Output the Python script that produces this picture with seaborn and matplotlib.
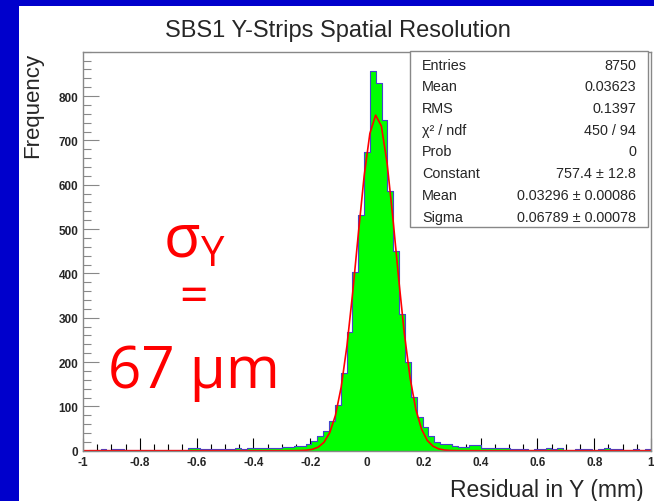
import numpy as np
import pandas as pd
import matplotlib
matplotlib.use("Agg")
import matplotlib.pyplot as plt
import seaborn as sns
from matplotlib.patches import Rectangle
from matplotlib.ticker import MultipleLocator, FixedLocator

sns.set_theme(style="white")
plt.rcParams['font.family'] = ['Liberation Sans', 'DejaVu Sans']

# ---- data ----
n_bins = 97
x_min, x_max = -1.0, 1.0
counts = [
    0, 1, 2, 3, 1, 3, 3, 1, 2, 2,
    1, 2, 2, 1, 2, 1, 1, 2, 6, 5,
    4, 3, 3, 3, 4, 4, 5, 4, 5, 5,
    6, 6, 7, 7, 8, 9, 11, 11, 15, 23,
    34, 45, 66, 102, 175, 267, 403, 532, 673, 857,
    829, 746, 585, 451, 308, 201, 120, 75, 53, 34,
    20, 15, 14, 10, 8, 9, 13, 12, 6, 5,
    5, 6, 5, 4, 3, 3, 2, 4, 3, 5,
    3, 6, 2, 2, 3, 4, 3, 2, 4, 5,
    4, 3, 2, 2, 3, 2, 3,
]
fit_constant = 757.4
fit_mean = 0.03296
fit_sigma = 0.06789

title = "SBS1 Y-Strips Spatial Resolution"
xlabel = "Residual in Y (mm)"
ylabel = "Frequency"
stats_labels = ["Entries", "Mean", "RMS", "χ² / ndf", "Prob", "Constant", "Mean", "Sigma"]
stats_values = ["8750", "0.03623", "0.1397", "450 / 94", "0", "757.4 ± 12.8",
                "0.03296 ± 0.00086", "0.06789 ± 0.00078"]
x_tick_values = [-1, -0.8, -0.6, -0.4, -0.2, 0, 0.2, 0.4, 0.6, 0.8, 1]
x_tick_labels = ["-1", "-0.8", "-0.6", "-0.4", "-0.2", "0", "0.2", "0.4", "0.6", "0.8", "1"]
y_tick_values = [0, 100, 200, 300, 400, 500, 600, 700, 800]

edges = np.linspace(x_min, x_max, n_bins + 1)
centers = 0.5 * (edges[:-1] + edges[1:])
df = pd.DataFrame({"x": centers, "w": counts})

W, H = 654, 502
fig = plt.figure(figsize=(W / 100, H / 100), dpi=100)
fig.patch.set_facecolor('#0000CC')
fig.add_artist(Rectangle((19 / W, 0), 1 - 19 / W, 1 - 7 / H, transform=fig.transFigure,
                         facecolor='white', edgecolor='none', zorder=0))

ax = fig.add_axes([83 / W, 1 - 451.7 / H, (651 - 83) / W, (451.7 - 52.7) / H])
ax.set_facecolor('white')

sns.histplot(data=df, x="x", weights="w", bins=n_bins, binrange=(x_min, x_max),
             element="step", fill=True,
             facecolor='#00FF00', edgecolor='#4444CC', alpha=1, linewidth=0.8, ax=ax)

xf = np.linspace(x_min, x_max, 100)
yf = fit_constant * np.exp(-0.5 * ((xf - fit_mean) / fit_sigma) ** 2)
ax.plot(xf, yf, color='#FF0000', lw=1.2)

ax.set_xlim(x_min, x_max)
ax.set_ylim(0, 900)
ax.set_xlabel("")
ax.set_ylabel("")

ax.xaxis.set_major_locator(FixedLocator(x_tick_values))
ax.xaxis.set_minor_locator(MultipleLocator(0.05))
ax.yaxis.set_major_locator(FixedLocator(y_tick_values))
ax.yaxis.set_minor_locator(MultipleLocator(20))
ax.set_xticklabels(x_tick_labels)
ax.tick_params(axis='x', which='major', direction='in', length=9.4, width=0.8, color='black',
               labelsize=8.5, pad=4, bottom=True, top=False)
ax.tick_params(axis='x', which='minor', direction='in', length=4.8, width=0.8, color='black',
               bottom=True, top=False)
ax.tick_params(axis='y', which='major', direction='in', length=11.3, width=0.8, color='#888888',
               labelsize=8.5, pad=3.5, left=True, right=False)
ax.tick_params(axis='y', which='minor', direction='in', length=5.8, width=0.8, color='#888888',
               left=True, right=False)
for lab in ax.get_xticklabels() + ax.get_yticklabels():
    lab.set_fontweight('bold')
for s in ax.spines.values():
    s.set_color('#888888')
    s.set_linewidth(1.0)

fig.text(338 / W, 1 - 37 / H, title, ha='center', va='baseline', fontsize=17)
fig.text(644 / W, 1 - 497 / H, xlabel, ha='right', va='baseline', fontsize=16.5)
fig.text(33 / W, 1 - 53 / H, ylabel, ha='center', va='top', rotation=90, fontsize=16)

# stats box
fig.add_artist(Rectangle((410 / W, 1 - 228 / H), (648 - 410) / W, (228 - 52) / H,
                         transform=fig.transFigure, facecolor='white', edgecolor='#888888',
                         lw=1.0, zorder=5))
for i, (lab, val) in enumerate(zip(stats_labels, stats_values)):
    yc = 1 - (65.7 + 21.7 * i) / H
    fig.text(422 / W, yc, lab, ha='left', va='center', fontsize=10.4, zorder=6)
    fig.text(636 / W, yc, val, ha='right', va='center', fontsize=10.4, zorder=6)

# red annotation
red = '#FF0000'
ann_font = ['Open Sans', 'DejaVu Sans']
fig.text(163 / W, 1 - 257 / H, "σ$_{\\mathregular{Y}}$", ha='left', va='baseline',
         fontsize=43, color=red, family=ann_font)
fig.text(193 / W, 1 - 312 / H, "=", ha='center', va='baseline', fontsize=36, color=red,
         family=ann_font)
fig.text(194 / W, 1 - 388 / H, "67 μm", ha='center', va='baseline', fontsize=42, color=red,
         family=ann_font)

fig.savefig("out.png", dpi=100)
